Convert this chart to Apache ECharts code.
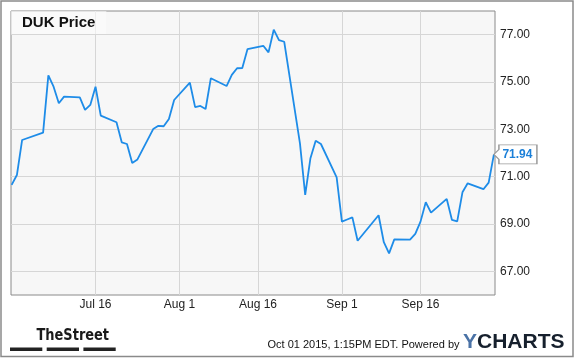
<!DOCTYPE html>
<html>
<head>
<meta charset="utf-8">
<script src="https://cdn.jsdelivr.net/npm/echarts@6/dist/echarts.min.js"></script>
<style>
html,body{margin:0;padding:0;background:#fff;}
#chart{width:575px;height:358px;}
</style>
</head>
<body>
<div id="chart"></div>
<script>
const dates = [
  '2015-06-30','2015-07-01','2015-07-02','2015-07-06','2015-07-07','2015-07-08','2015-07-09','2015-07-10',
  '2015-07-13','2015-07-14','2015-07-15','2015-07-16','2015-07-17','2015-07-20','2015-07-21','2015-07-22',
  '2015-07-23','2015-07-24','2015-07-27','2015-07-28','2015-07-29','2015-07-30','2015-07-31','2015-08-03',
  '2015-08-04','2015-08-05','2015-08-06','2015-08-07','2015-08-10','2015-08-11','2015-08-12','2015-08-13',
  '2015-08-14','2015-08-17','2015-08-18','2015-08-19','2015-08-20','2015-08-21','2015-08-24','2015-08-25',
  '2015-08-26','2015-08-27','2015-08-28','2015-08-31','2015-09-01','2015-09-02','2015-09-03','2015-09-04',
  '2015-09-08','2015-09-09','2015-09-10','2015-09-11','2015-09-14','2015-09-15','2015-09-16','2015-09-17',
  '2015-09-18','2015-09-21','2015-09-22','2015-09-23','2015-09-24','2015-09-25','2015-09-28','2015-09-29',
  '2015-09-30'
];
const prices = [
  70.65,71.07,72.55,72.86,75.28,74.80,74.10,74.38,
  74.35,73.82,74.03,74.80,73.58,73.30,72.45,72.38,
  71.58,71.73,73.01,73.15,73.13,73.44,74.24,74.97,
  73.94,73.99,73.86,75.16,74.83,75.30,75.58,75.59,
  76.39,76.53,76.25,77.21,76.77,76.70,72.41,70.23,
  71.78,72.52,72.38,70.97,69.10,69.19,69.28,68.29,
  69.37,68.23,67.76,68.35,68.34,68.58,69.10,69.92,
  69.48,70.06,69.17,69.11,70.34,70.72,70.47,70.75,
  71.94
];
const xTickDates = ['2015-07-16','2015-08-01','2015-08-16','2015-09-01','2015-09-16'];
const xTickLabels = ['Jul 16','Aug 1','Aug 16','Sep 1','Sep 16'];
const yTicks = [67,69,71,73,75,77];
const titleText = 'DUK Price';
const lastLabel = '71.94';

function ts(s){ const p = s.split('-').map(Number); return Date.UTC(p[0], p[1]-1, p[2]); }
const HOUR = 3600000;
const xMin = ts('2015-06-30') - 3*HOUR;
const xMax = ts('2015-09-30') + 5*HOUR;
const xTickTs = xTickDates.map(ts);
const labelMap = {};
xTickTs.forEach((t,i)=>{ labelMap[t] = xTickLabels[i]; });
const seriesData = dates.map((d,i)=>[ts(d), prices[i]]);
const lastPoint = seriesData[seriesData.length-1];

const FONT = 'Liberation Sans, Arial, sans-serif';
const chart = echarts.init(document.getElementById('chart'), null, {renderer:'canvas'});
chart.setOption({
  animation: false,
  backgroundColor: '#ffffff',
  title: {
    text: titleText,
    left: 11, top: 11,
    padding: [4, 11, 4, 11],
    backgroundColor: 'rgba(252,252,252,0.6)',
    textStyle: {fontFamily: FONT, fontSize: 15, fontWeight: 'bold', color: '#111', lineHeight: 15}
  },
  grid: {
    left: 11, top: 11, right: 80, bottom: 63,
    show: true, backgroundColor: '#f7f7f7', borderColor: '#8a8a8a', borderWidth: 1,
    containLabel: false
  },
  xAxis: {
    type: 'value',
    min: xMin, max: xMax,
    axisLine: {show: false},
    axisTick: {show: false, customValues: xTickTs},
    splitLine: {show: true, lineStyle: {color: '#d6d6d6', width: 1}},
    axisLabel: {
      customValues: xTickTs,
      margin: 4,
      color: '#222', fontFamily: FONT, fontSize: 12,
      formatter: v => labelMap[v] || ''
    }
  },
  yAxis: {
    type: 'value',
    position: 'right',
    min: 66, max: 78,
    axisLine: {show: false},
    axisTick: {show: false, customValues: yTicks},
    splitLine: {show: true, lineStyle: {color: '#d6d6d6', width: 1}},
    axisLabel: {
      customValues: yTicks,
      margin: 5,
      color: '#222', fontFamily: FONT, fontSize: 12,
      formatter: v => Number(v).toFixed(2)
    }
  },
  series: [{
    type: 'line',
    data: seriesData,
    showSymbol: false,
    symbol: 'none',
    lineStyle: {color: '#1e8ce8', width: 1.8},
    markPoint: {
      silent: true,
      data: [{coord: lastPoint, value: lastLabel}],
      symbol: 'path://M0,9.5L5,4.5L5,0L43,0L43,19L5,19L5,14.5Z',
      symbolSize: [43, 19],
      symbolOffset: [21.5, 0],
      itemStyle: {color: '#ffffff', borderColor: '#9a9a9a', borderWidth: 1},
      label: {
        show: true, position: 'inside', offset: [2, 0],
        formatter: lastLabel,
        color: '#1a7fd8', fontFamily: FONT, fontSize: 12, fontWeight: 'bold'
      }
    }
  }],
  graphic: [
    {type: 'rect', shape: {x: 1, y: 1, width: 572, height: 355.5}, style: {fill: 'none', stroke: '#8a8a8a', lineWidth: 1.5}, silent: true, z: 100},
    {type: 'text', x: 36.5, y: 336, style: {text: 'TheStreet', fill: '#1a1a1a', font: 'bold 16px "Liberation Sans Narrow", "DejaVu Sans Condensed", sans-serif', textVerticalAlign: 'middle'}, scaleX: 0.9, silent: true},
    {type: 'rect', shape: {x: 10, y: 347.5, width: 32.3, height: 3.5}, style: {fill: '#222'}, silent: true},
    {type: 'rect', shape: {x: 46.7, y: 347.5, width: 32.3, height: 3.5}, style: {fill: '#222'}, silent: true},
    {type: 'rect', shape: {x: 83.4, y: 347.5, width: 32.3, height: 3.5}, style: {fill: '#222'}, silent: true},
    {type: 'text', x: 459.5, y: 344.5, style: {text: 'Oct 01 2015, 1:15PM EDT. Powered by', fill: '#111', font: '11px "Liberation Sans", Arial, sans-serif', textAlign: 'right', textVerticalAlign: 'middle'}, silent: true},
    {type: 'text', x: 463, y: 342.3, style: {
      text: '{a|Y}{b|CHARTS}', textVerticalAlign: 'middle',
      rich: {
        a: {fill: '#4a72a6', font: 'bold 21px "Liberation Sans", Arial, sans-serif'},
        b: {fill: '#16202d', font: 'bold 21px "Liberation Sans", Arial, sans-serif'}
      }
    }, silent: true}
  ]
});
</script>
</body>
</html>
